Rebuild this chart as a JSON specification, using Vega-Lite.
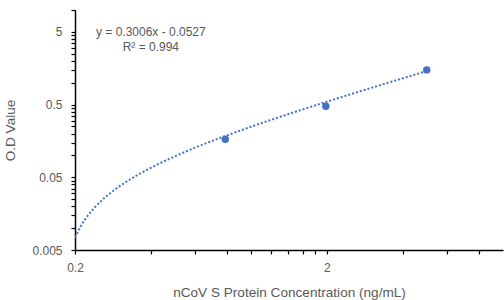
{
  "$schema": "https://vega.github.io/schema/vega-lite/v6.json",
  "width": 428,
  "height": 240,
  "autosize": {"type": "none"},
  "padding": {"left": 75, "top": 10, "right": 1, "bottom": 50},
  "background": "white",
  "config": {
    "view": {"stroke": null},
    "font": "Liberation Sans",
    "axis": {
      "grid": false,
      "domainColor": "#000000",
      "domainWidth": 1.5,
      "tickColor": "#000000",
      "tickSize": 4,
      "tickWidth": 1.2,
      "labelColor": "#595959",
      "labelFont": "Liberation Sans",
      "labelFontSize": 12,
      "labelOverlap": false,
      "labelFlush": false,
      "titleColor": "#595959",
      "titleFont": "Liberation Sans",
      "titleFontSize": 13.6,
      "titleFontWeight": "normal"
    }
  },
  "datasets": {
    "trend": [
      {"conc": 0.2, "od": 0.0074},
      {"conc": 0.21, "od": 0.0104},
      {"conc": 0.22, "od": 0.0134},
      {"conc": 0.24, "od": 0.0194},
      {"conc": 0.26, "od": 0.0255},
      {"conc": 0.28, "od": 0.0315},
      {"conc": 0.3, "od": 0.0375},
      {"conc": 0.35, "od": 0.0525},
      {"conc": 0.4, "od": 0.0675},
      {"conc": 0.5, "od": 0.0976},
      {"conc": 0.6, "od": 0.128},
      {"conc": 0.8, "od": 0.188},
      {"conc": 1, "od": 0.248},
      {"conc": 1.5, "od": 0.398},
      {"conc": 2, "od": 0.548},
      {"conc": 3, "od": 0.849},
      {"conc": 4, "od": 1.15},
      {"conc": 5, "od": 1.45}
    ],
    "points": [
      {"conc": 0.79, "od": 0.167},
      {"conc": 1.98, "od": 0.474},
      {"conc": 4.98, "od": 1.5}
    ],
    "labels": [
      {"conc": 0.4, "od": 5, "text": "y = 0.3006x - 0.0527"},
      {"conc": 0.4, "od": 3.05, "text": "R² = 0.994"}
    ]
  },
  "layer": [
    {
      "data": {"name": "trend"},
      "mark": {"type": "line", "color": "#4472C4", "strokeWidth": 2, "strokeDash": [2, 2], "strokeCap": "butt", "interpolate": "monotone", "clip": true},
      "encoding": {
        "x": {
          "field": "conc", "type": "quantitative",
          "scale": {"type": "log", "domain": [0.2, 10], "nice": false},
          "title": "nCoV S Protein Concentration (ng/mL)",
          "axis": {
            "values": [0.2, 0.4, 0.6, 0.8, 1, 1.2, 1.4, 1.6, 1.8, 2, 4, 6, 8],
            "labelExpr": "datum.value == 0.2 ? '0.2' : (datum.value == 2 ? '2' : '')",
            "labelPadding": 8,
            "titlePadding": 12
          }
        },
        "y": {
          "field": "od", "type": "quantitative",
          "scale": {"type": "log", "domain": [0.005, 10], "nice": false},
          "title": "O.D Value",
          "axis": {
            "values": [0.005, 0.01, 0.015, 0.02, 0.025, 0.03, 0.035, 0.04, 0.045, 0.05, 0.1, 0.15, 0.2, 0.25, 0.3, 0.35, 0.4, 0.45, 0.5, 1, 1.5, 2, 2.5, 3, 3.5, 4, 4.5, 5, 10],
            "labelExpr": "indexof([0.005, 0.05, 0.5, 5], datum.value) >= 0 ? format(datum.value, '~g') : ''",
            "labelPadding": 9,
            "titlePadding": 14
          }
        }
      }
    },
    {
      "data": {"name": "points"},
      "mark": {"type": "point", "filled": true, "opacity": 1, "color": "#4472C4", "size": 55},
      "encoding": {
        "x": {"field": "conc", "type": "quantitative"},
        "y": {"field": "od", "type": "quantitative"}
      }
    },
    {
      "data": {"name": "labels"},
      "mark": {"type": "text", "color": "#595959", "fontSize": 12, "align": "center", "baseline": "middle", "font": "Liberation Sans"},
      "encoding": {
        "x": {"field": "conc", "type": "quantitative"},
        "y": {"field": "od", "type": "quantitative"},
        "text": {"field": "text"}
      }
    }
  ]
}
